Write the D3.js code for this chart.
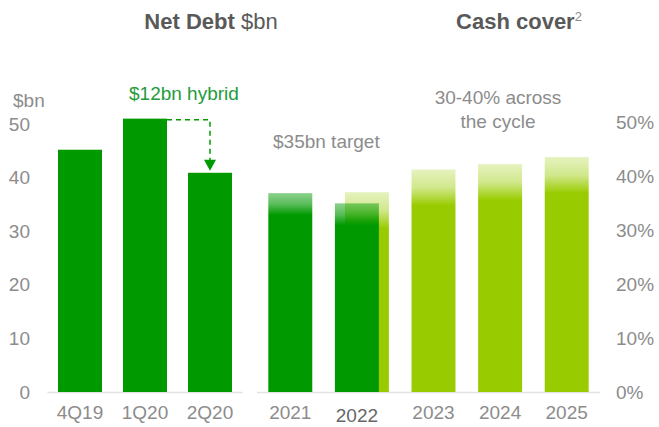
<!DOCTYPE html>
<head>
  <meta charset="utf-8">
  <script src="https://d3js.org/d3.v7.min.js"></script>
  <style>
    body {
      margin: 0;
      background: #fff;
      font-family: "Liberation Sans", Arial, sans-serif;
    }
    .tick-label {
      fill: #8c8c8c;
      font-size: 19px;
    }
  </style>
</head>

<body>
<script>

// net debt, quarterly ($bn)
var quarters = ["4Q19", "1Q20", "2Q20"];
var netDebtQ = [45.2, 51.0, 40.9];

// outlook years
var years = ["2021", "2022", "2023", "2024", "2025"];
var netDebtY = [37.1, 35.2, null, null, null];   // $bn, faded top
var cashCover = [null, 37.0, 41.2, 42.2, 43.5];  // %, faded top

var leftTicks = [0, 10, 20, 30, 40, 50];
var rightTicks = [0, 10, 20, 30, 40, 50];

var width = 659, height = 427;
var dark = "#009900", light = "#99cc00";

var svg = d3.select("body").append("svg")
    .attr("width", width)
    .attr("height", height);

var defs = svg.append("defs");

var xq = d3.scaleBand()
    .domain(quarters)
    .range([47.5, 242.5])
    .paddingInner(0.323)
    .paddingOuter(0.1615);

var xy = d3.scaleBand()
    .domain(years)
    .range([267, 600])
    .paddingInner(0.34)
    .paddingOuter(0.17);

var darkShift = -10;

var yL = d3.scaleLinear().domain([0, 50]).range([392, 124]);
var yR = d3.scaleLinear().domain([0, 50]).range([392, 122]);

// titles
var t1 = svg.append("text")
    .attr("x", 211).attr("y", 29)
    .attr("text-anchor", "middle")
    .style("font-size", "22px")
    .style("fill", "#595959");
t1.append("tspan").style("font-weight", "bold").text("Net Debt");
t1.append("tspan").text(" $bn");

var t2 = svg.append("text")
    .attr("x", 519).attr("y", 29)
    .attr("text-anchor", "middle")
    .style("font-size", "22px")
    .style("fill", "#595959");
t2.append("tspan").style("font-weight", "bold").text("Cash cover");
t2.append("tspan").attr("dy", -8).style("font-size", "13px").style("fill", "#8c8c8c").text("2");

// baselines
svg.append("line")
    .attr("x1", xq.range()[0]).attr("x2", xq.range()[1])
    .attr("y1", yL(0) + 0.5).attr("y2", yL(0) + 0.5)
    .style("stroke", "#e2e2e2").style("stroke-width", 1.5);
svg.append("line")
    .attr("x1", xy.range()[0] + darkShift).attr("x2", xy.range()[1])
    .attr("y1", yL(0) + 0.5).attr("y2", yL(0) + 0.5)
    .style("stroke", "#e2e2e2").style("stroke-width", 1.5);

// left axis labels
svg.selectAll(".ltick")
    .data(leftTicks)
  .enter().append("text")
    .attr("class", "tick-label")
    .attr("x", 30)
    .attr("y", function(d) { return yL(d); })
    .attr("dy", "0.35em")
    .attr("text-anchor", "end")
    .text(function(d) { return d; });

svg.append("text")
    .attr("class", "tick-label")
    .attr("x", 13).attr("y", 107)
    .text("$bn");

// right axis labels
svg.selectAll(".rtick")
    .data(rightTicks)
  .enter().append("text")
    .attr("class", "tick-label")
    .attr("x", 616)
    .attr("y", function(d) { return yR(d); })
    .attr("dy", "0.35em")
    .text(function(d) { return d + "%"; });

// quarterly bars (solid)
svg.selectAll(".qbar")
    .data(quarters)
  .enter().append("rect")
    .attr("x", function(d) { return xq(d); })
    .attr("width", xq.bandwidth())
    .attr("y", function(d, i) { return yL(netDebtQ[i]); })
    .attr("height", function(d, i) { return yL(0) - yL(netDebtQ[i]); })
    .style("fill", dark);

// faded-top gradient for each bar
function fadeGrad(id, color, top, len, a0) {
  var g = defs.append("linearGradient")
      .attr("id", id)
      .attr("gradientUnits", "userSpaceOnUse")
      .attr("x1", 0).attr("x2", 0)
      .attr("y1", top).attr("y2", top + len);
  g.append("stop").attr("offset", 0).attr("stop-color", color).attr("stop-opacity", a0);
  g.append("stop").attr("offset", 0.5).attr("stop-color", color).attr("stop-opacity", a0 + 0.2);
  g.append("stop").attr("offset", 1).attr("stop-color", color).attr("stop-opacity", 1);
  return "url(#" + id + ")";
}

// cash cover bars
years.forEach(function(d, i) {
  if (cashCover[i] == null) return;
  var top = yR(cashCover[i]);
  svg.append("rect")
      .attr("x", xy(d))
      .attr("width", xy.bandwidth())
      .attr("y", top)
      .attr("height", yR(0) - top)
      .style("fill", fadeGrad("cc" + i, light, top, 36, 0.25));
});

// yearly net debt bars
years.forEach(function(d, i) {
  if (netDebtY[i] == null) return;
  var top = yL(netDebtY[i]);
  svg.append("rect")
      .attr("x", xy(d) + darkShift)
      .attr("width", xy.bandwidth())
      .attr("y", top)
      .attr("height", yL(0) - top)
      .style("fill", fadeGrad("nd" + i, dark, top, 22, 0.45));
});

// x labels
svg.selectAll(".qlab")
    .data(quarters)
  .enter().append("text")
    .attr("class", "tick-label")
    .attr("x", function(d) { return xq(d) + xq.bandwidth() / 2; })
    .attr("y", 419)
    .attr("text-anchor", "middle")
    .text(function(d) { return d; });

svg.selectAll(".ylab")
    .data(years)
  .enter().append("text")
    .attr("class", "tick-label")
    .attr("x", function(d, i) {
      var s = netDebtY[i] != null ? darkShift : 0;
      return xy(d) + s + xy.bandwidth() / 2;
    })
    .attr("y", function(d) { return d === "2022" ? 422 : 419; })
    .attr("text-anchor", "middle")
    .style("fill", function(d) { return d === "2022" ? "#666" : null; })
    .text(function(d) { return d; });

// hybrid arrow
var ax0 = xq("1Q20") + xq.bandwidth(),
    ay0 = yL(netDebtQ[1]) + 1,
    ax1 = xq("2Q20") + xq.bandwidth() / 2,
    ay1 = yL(netDebtQ[2]) - 2;

svg.append("path")
    .attr("d", "M" + ax0 + "," + ay0 + "H" + ax1 + "V" + (ay1 - 10))
    .style("fill", "none")
    .style("stroke", dark)
    .style("stroke-width", 1.5)
    .style("stroke-dasharray", "5,4");

svg.append("path")
    .attr("d", "M" + (ax1 - 6) + "," + (ay1 - 11) + "L" + (ax1 + 6) + "," + (ay1 - 11) + "L" + ax1 + "," + ay1 + "Z")
    .style("fill", dark);

svg.append("text")
    .attr("x", 129).attr("y", 100)
    .style("font-size", "19px")
    .style("fill", "#239b3b")
    .text("$12bn hybrid");

// annotations
svg.append("text")
    .attr("class", "tick-label")
    .attr("x", 273).attr("y", 148)
    .text("$35bn target");

svg.append("text")
    .attr("class", "tick-label")
    .attr("x", 498).attr("y", 104)
    .attr("text-anchor", "middle")
    .text("30-40% across");

svg.append("text")
    .attr("class", "tick-label")
    .attr("x", 498).attr("y", 128)
    .attr("text-anchor", "middle")
    .text("the cycle");

</script>
